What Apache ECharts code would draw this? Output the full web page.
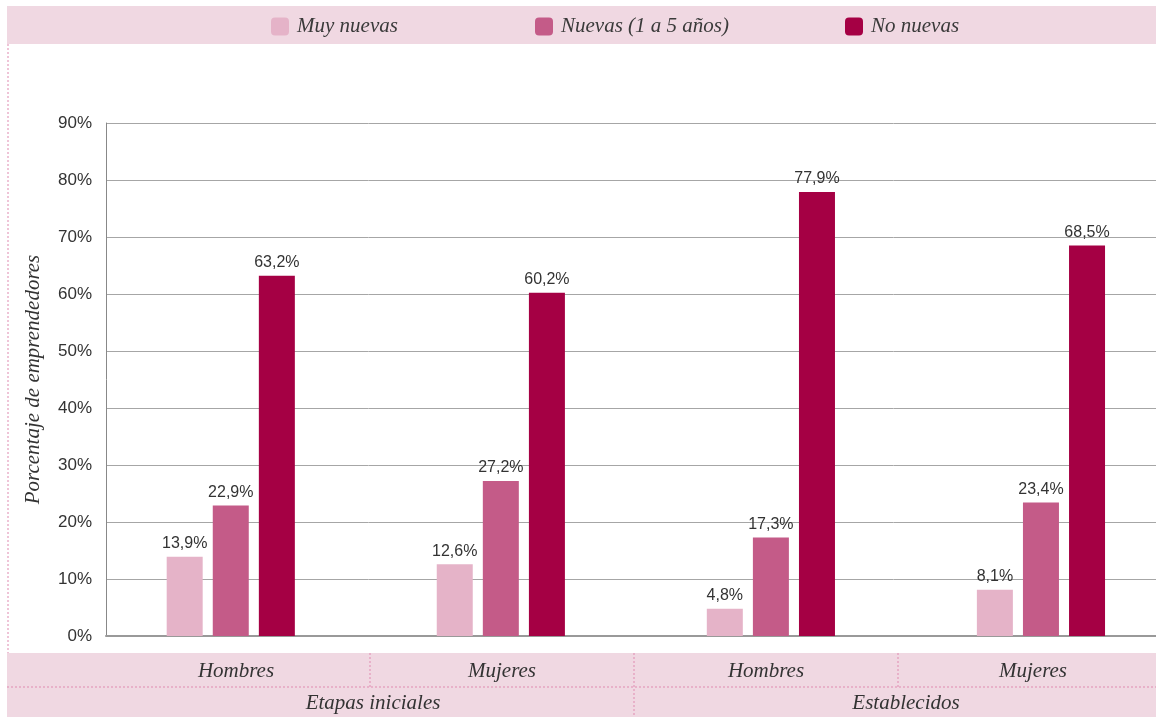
<!DOCTYPE html>
<html>
<head>
<meta charset="utf-8">
<title>Porcentaje de emprendedores</title>
<script src="https://cdn.jsdelivr.net/npm/echarts@6/dist/echarts.min.js"></script>
<style>
  html, body { margin: 0; padding: 0; background: #fff; }
  #chart { width: 1156px; height: 717px; }
</style>
</head>
<body>
<div id="chart"></div>
<script>
// 数据
var categories = ["Hombres", "Mujeres", "Hombres", "Mujeres"];
var groups = ["Etapas iniciales", "Establecidos"];
var seriesNames = ["Muy nuevas", "Nuevas (1 a 5 años)", "No nuevas"];
var muyNuevas = [13.9, 12.6, 4.8, 8.1];
var nuevas = [22.9, 27.2, 17.3, 23.4];
var noNuevas = [63.2, 60.2, 77.9, 68.5];
var yTicks = [0, 10, 20, 30, 40, 50, 60, 70, 80, 90];

var colors = ["#e5b3c8", "#c45b88", "#a50044"];
var bandColor = "#f0d8e2";
var dotColor = "#e08ab0";
var serif = "'Liberation Serif', 'DejaVu Serif', serif";
var sans = "'Liberation Sans', Arial, sans-serif";

var myChart = echarts.init(document.getElementById("chart"));

// 柱状数据, x 用类别序号
var values = [muyNuevas, nuevas, noNuevas];
var series = [];
for (var i = 0; i < values.length; i++) {
  series.push({
    name: seriesNames[i],
    type: "bar",
    barWidth: 36,
    barGap: "28%",
    itemStyle: { color: colors[i] },
    label: {
      show: true,
      position: "top",
      distance: 5,
      color: "#333",
      fontFamily: sans,
      fontSize: 16,
      formatter: function (p) {
        return p.value[1].toFixed(1).replace(".", ",") + "%";
      }
    },
    data: values[i].map(function (v, k) { return [k, v]; })
  });
}

// 图例, 三个分开放
var legendLeft = [271, 535, 845];
var legends = seriesNames.map(function (name, i) {
  return {
    data: [name],
    left: legendLeft[i],
    top: 16,
    padding: 0,
    itemWidth: 18,
    itemHeight: 18,
    icon: "path://M4,0 H14 Q18,0 18,4 V14 Q18,18 14,18 H4 Q0,18 0,14 V4 Q0,0 4,0 Z",
    selectedMode: false,
    textStyle: {
      color: "#3a3a3a",
      fontFamily: serif,
      fontStyle: "italic",
      fontSize: 21,
      padding: [0, 0, 0, 3]
    }
  };
});

// 底部类别标签
var catCenters = [236, 502, 766, 1033];
var groupCenters = [373, 906];
var graphics = [
  { type: "rect", z: -10, shape: { x: 7, y: 6, width: 1149, height: 38 }, style: { fill: bandColor } },
  { type: "rect", z: -10, shape: { x: 7, y: 653, width: 1149, height: 64 }, style: { fill: bandColor } },
  { type: "line", z: -5, shape: { x1: 8, y1: 44, x2: 8, y2: 653 }, style: { stroke: dotColor, lineWidth: 1, lineDash: [2, 2] } },
  { type: "line", z: -5, shape: { x1: 7, y1: 687, x2: 1156, y2: 687 }, style: { stroke: dotColor, lineWidth: 1, lineDash: [2, 2] } },
  { type: "line", z: -5, shape: { x1: 370, y1: 653, x2: 370, y2: 687 }, style: { stroke: dotColor, lineWidth: 1, lineDash: [2, 2] } },
  { type: "line", z: -5, shape: { x1: 634, y1: 653, x2: 634, y2: 717 }, style: { stroke: dotColor, lineWidth: 1, lineDash: [2, 2] } },
  { type: "line", z: -5, shape: { x1: 898, y1: 653, x2: 898, y2: 687 }, style: { stroke: dotColor, lineWidth: 1, lineDash: [2, 2] } }
];
categories.forEach(function (c, i) {
  graphics.push({
    type: "text",
    x: catCenters[i],
    y: 671,
    style: { text: c, fill: "#333", font: "italic 21px " + serif, textAlign: "center", textVerticalAlign: "middle" }
  });
});
groups.forEach(function (g, i) {
  graphics.push({
    type: "text",
    x: groupCenters[i],
    y: 703,
    style: { text: g, fill: "#333", font: "italic 21px " + serif, textAlign: "center", textVerticalAlign: "middle" }
  });
});

var option = {
  animation: false,
  color: colors,
  legend: legends,
  graphic: graphics,
  grid: {
    left: 106,
    right: 0,
    top: 123,
    bottom: 81,
    containLabel: false
  },
  // x轴, 用数值轴把柱子对准原图位置
  xAxis: {
    type: "value",
    min: -0.462,
    max: 3.426,
    axisLine: { show: true, onZero: false, lineStyle: { color: "#999", width: 2 } },
    axisTick: { show: false },
    axisLabel: { show: false },
    splitLine: { show: false }
  },
  yAxis: {
    type: "value",
    min: yTicks[0],
    max: yTicks[yTicks.length - 1],
    interval: 10,
    name: "Porcentaje de emprendedores",
    nameLocation: "middle",
    nameGap: 62,
    nameTextStyle: {
      color: "#333",
      fontFamily: serif,
      fontStyle: "italic",
      fontSize: 21
    },
    axisLine: { show: true, onZero: false, lineStyle: { color: "#888", width: 1 } },
    axisTick: { show: false },
    axisLabel: {
      color: "#333",
      fontFamily: sans,
      fontSize: 17,
      margin: 14,
      formatter: function (v) { return v + "%"; }
    },
    splitLine: { show: true, lineStyle: { color: "#a6a6a6", width: 1 } }
  },
  series: series
};
option && myChart.setOption(option);
</script>
</body>
</html>
